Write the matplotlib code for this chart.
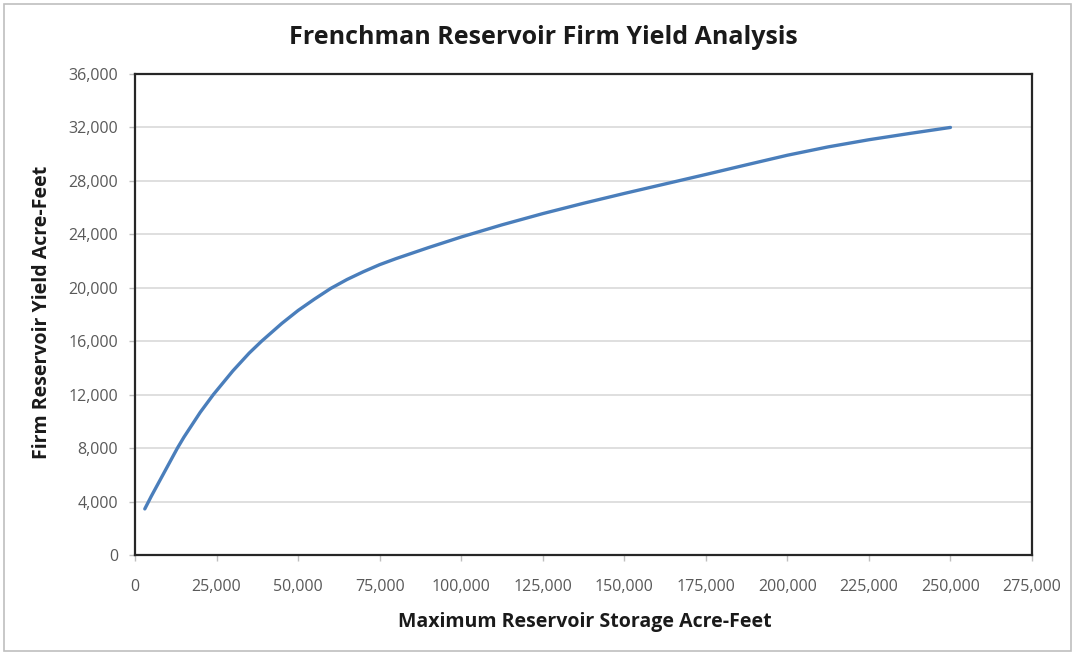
import matplotlib
matplotlib.use("Agg")
import matplotlib.pyplot as plt
from matplotlib.ticker import FuncFormatter, MultipleLocator
from matplotlib.patches import Rectangle

storage = [3000, 5000, 10000, 13000, 15000, 20000, 24000, 30000, 35000,
           38800, 45000, 50000, 55000, 60000, 65000, 70000, 75000, 80000,
           90000, 100000, 112500, 125000, 137500, 150000, 162500, 175000,
           187500, 200000, 212500, 225000, 237500, 250000]
yield_af = [3450, 4400, 6650, 8000, 8820, 10680, 12000, 13780, 15110,
            16000, 17330, 18300, 19150, 19950, 20620, 21200, 21730, 22180,
            23010, 23800, 24710, 25550, 26325, 27060, 27770, 28480,
            29205, 29920, 30545, 31080, 31550, 32000]

title = "Frenchman Reservoir Firm Yield Analysis"
xlabel = "Maximum Reservoir Storage Acre-Feet"
ylabel = "Firm Reservoir Yield Acre-Feet"

plt.rcParams['font.family'] = ['Open Sans', 'DejaVu Sans']

fig = plt.figure(figsize=(10.75, 6.55), dpi=100)
ax = fig.add_axes([135/1075, 100/655, (1032-135)/1075, (555-74)/655])

ax.plot(storage, yield_af, color="#4a7ebb", lw=2.4, solid_capstyle="round",
        solid_joinstyle="round")

ax.set_xlim(0, 275000)
ax.set_ylim(0, 36000)
ax.xaxis.set_major_locator(MultipleLocator(25000))
ax.yaxis.set_major_locator(MultipleLocator(4000))
fmt = FuncFormatter(lambda v, p: f"{int(v):,}")
ax.xaxis.set_major_formatter(fmt)
ax.yaxis.set_major_formatter(fmt)
ax.grid(axis="y", color="#d9d9d9", lw=1.2)
ax.set_axisbelow(True)
for s in ax.spines.values():
    s.set_color("#262626")
    s.set_linewidth(1.6)
ax.tick_params(axis="both", colors="#bfbfbf", length=4, width=1,
               labelcolor="#595959", labelsize=11.5)
ax.tick_params(axis="x", pad=13)
ax.tick_params(axis="y", pad=8)

fig.text(543/1075, 1 - 37/655, title, ha="center", va="center",
         fontsize=18, fontweight="bold", color="#1a1a1a")
fig.text(585/1075, 1 - 622/655, xlabel, ha="center", va="center",
         fontsize=14, fontweight="bold", color="#1a1a1a")
fig.text(42/1075, 1 - 312/655, ylabel, ha="center", va="center",
         rotation=90, fontsize=14, fontweight="bold", color="#1a1a1a")

fig.patches.append(Rectangle((4/1075, 4/655), 1 - 8/1075, 1 - 8/655,
                             transform=fig.transFigure, fill=False,
                             edgecolor="#bfbfbf", lw=1.2))

fig.savefig("out.png", dpi=100)
